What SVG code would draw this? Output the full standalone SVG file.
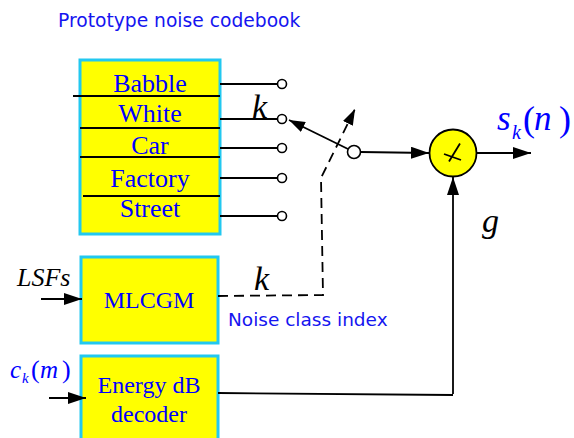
<svg xmlns="http://www.w3.org/2000/svg" width="574" height="438" viewBox="0 0 574 438">
<defs>
<marker id="arr" viewBox="0 0 18 12" refX="18" refY="6" markerWidth="18" markerHeight="12" markerUnits="userSpaceOnUse" orient="auto">
<path d="M0,0 L18,6 L0,12 z" fill="#000"/>
</marker>
<marker id="arrs" viewBox="0 0 16 11" refX="16" refY="5.5" markerWidth="16" markerHeight="11" markerUnits="userSpaceOnUse" orient="auto">
<path d="M0,0 L16,5.5 L0,11 z" fill="#000"/>
</marker>
<style>
.box{fill:#ffff00;stroke:#22c8f0;stroke-width:3}
.ln{stroke:#000;stroke-width:1.8;fill:none}
.dash{stroke:#000;stroke-width:1.8;fill:none;stroke-dasharray:10 6}
.term{fill:#fff;stroke:#000;stroke-width:1.6}
.lbl{font-family:"Liberation Serif","Times New Roman",serif;fill:#0000ff;text-anchor:middle}
.it{font-family:"Liberation Serif","Times New Roman",serif;font-style:italic}
.sans{font-family:"DejaVu Sans",Verdana,sans-serif;fill:#1515f0}
</style>
</defs>
<text class="sans" x="58" y="27" font-size="18.7">Prototype noise codebook</text>
<g id="codebook">
<rect class="box" x="80" y="60" width="140" height="174"/>
<line class="ln" x1="73" y1="96" x2="220" y2="96"/>
<line class="ln" x1="80" y1="128" x2="220" y2="128"/>
<line class="ln" x1="80" y1="157" x2="220" y2="157"/>
<line class="ln" x1="83" y1="196" x2="220" y2="196"/>
<text class="lbl" x="150" y="92" font-size="26">Babble</text>
<text class="lbl" x="150" y="122" font-size="26">White</text>
<text class="lbl" x="150" y="154" font-size="26">Car</text>
<text class="lbl" x="150" y="187" font-size="26">Factory</text>
<text class="lbl" x="150" y="217" font-size="26">Street</text>
</g>
<g id="mlcgm">
<rect class="box" x="81" y="257" width="137" height="86"/>
<text class="lbl" x="149" y="308" font-size="24">MLCGM</text>
</g>
<g id="energy">
<rect class="box" x="81" y="356" width="137" height="84"/>
<text class="lbl" x="149" y="393" font-size="24">Energy dB</text>
<text class="lbl" x="149" y="422" font-size="24">decoder</text>
</g>
<g id="multiplier">
<circle cx="453" cy="153" r="23.5" fill="#ffff00" stroke="#000" stroke-width="1.8"/>
<line class="ln" x1="444" y1="154" x2="461" y2="160"/>
<line class="ln" x1="460" y1="143.5" x2="449" y2="161.5"/>
</g>
<g id="switch">
<circle class="term" cx="354" cy="152" r="6.5"/>
</g>
<g id="connectors">
<line class="ln" x1="220" y1="84" x2="277.5" y2="84"/>
<line class="ln" x1="220" y1="119" x2="277.5" y2="119"/>
<line class="ln" x1="220" y1="148" x2="277.5" y2="148"/>
<line class="ln" x1="220" y1="178" x2="277.5" y2="178"/>
<line class="ln" x1="220" y1="216" x2="277.5" y2="216"/>
<circle class="term" cx="282" cy="84" r="4.5"/>
<circle class="term" cx="282" cy="119" r="4.5"/>
<circle class="term" cx="282" cy="148" r="4.5"/>
<circle class="term" cx="282" cy="178" r="4.5"/>
<circle class="term" cx="282" cy="216" r="4.5"/>
<line class="ln" x1="348" y1="149" x2="289" y2="120" marker-end="url(#arrs)"/>
<line class="ln" x1="360.5" y1="152" x2="429" y2="153" marker-end="url(#arr)"/>
<line class="ln" x1="476.5" y1="153" x2="531" y2="153" marker-end="url(#arr)"/>
<line class="ln" x1="453" y1="394" x2="453" y2="177" marker-end="url(#arr)"/>
<line class="ln" x1="218" y1="393" x2="453" y2="395"/>
<polyline class="dash" points="218,296 323,295 321,178 355,109" marker-end="url(#arrs)"/>
<line class="ln" x1="41" y1="299" x2="82" y2="299" marker-end="url(#arr)"/>
<line class="ln" x1="49" y1="398" x2="86" y2="398" marker-end="url(#arr)"/>
</g>
<text class="it" x="252" y="118" font-size="34">k</text>
<text class="it" x="254" y="290" font-size="34">k</text>
<text class="it" x="482" y="232" font-size="34">g</text>
<text class="sans" x="228" y="326" font-size="18.5">Noise class index</text>
<text class="it" x="17" y="286" font-size="26">LSFs</text>
<text class="it" fill="#0000ff"><tspan x="497" y="130" font-size="35">s</tspan><tspan x="512" y="139" font-size="20">k</tspan><tspan x="523" y="131" font-size="36" font-style="normal">(</tspan><tspan x="534" y="130" font-size="35">n</tspan><tspan x="559" y="131" font-size="36" font-style="normal">)</tspan></text>
<text class="it" fill="#0000ff"><tspan x="10" y="378" font-size="25">c</tspan><tspan x="22" y="383" font-size="15">k</tspan><tspan x="31" y="378" font-size="26" font-style="normal">(</tspan><tspan x="40" y="378" font-size="25">m</tspan><tspan x="62" y="378" font-size="26" font-style="normal">)</tspan></text>
</svg>
